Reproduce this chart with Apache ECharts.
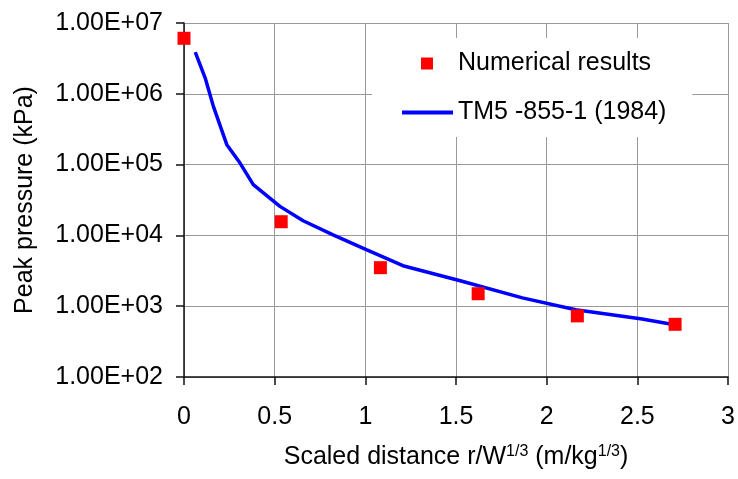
<!DOCTYPE html>
<html>
<head>
<meta charset="utf-8">
<script src="https://cdn.jsdelivr.net/npm/echarts@6/dist/echarts.min.js"></script>
<style>
  html, body { margin: 0; padding: 0; background: #fff; }
  #chart { width: 738px; height: 479px; }
</style>
</head>
<body>
<div id="chart"></div>
<script>
// 数值结果 (scatter)
const numX = [0, 0.536, 1.083, 1.622, 2.169, 2.708]
const numP = [6.08e6, 1.56e4, 3.5e3, 1.5e3, 730, 555]

// TM5-855-1 curve
const tmX = [0.062, 0.117, 0.162, 0.236, 0.309, 0.382, 0.529, 0.657, 0.822, 1.005, 1.207, 1.518, 1.866, 2.16, 2.526, 2.682]
const tmP = [3.89e6, 1.67e6, 6.64e5, 1.91e5, 1.05e5, 5.2e4, 2.57e4, 1.61e4, 1.02e4, 6.28e3, 3.73e3, 2.31e3, 1.31e3, 891, 659, 561]

const yTickLabels = ['1.00E+02', '1.00E+03', '1.00E+04', '1.00E+05', '1.00E+06', '1.00E+07']

const font = "'Liberation Sans', Arial, sans-serif"
const chart = echarts.init(document.getElementById('chart'))

const option = {
  animation: false,
  textStyle: { fontFamily: font, color: '#000' },
  grid: { left: 184, right: 9, top: 23, bottom: 102 },
  legend: [
    {
      data: ['Numerical results'],
      left: 372,
      top: 38,
      padding: [13, 36, 13, 49],
      backgroundColor: '#fff',
      itemWidth: 12,
      itemHeight: 12,
      icon: 'rect',
      textStyle: { fontSize: 25, color: '#000', fontFamily: font, padding: [0, 0, 0, 20] },
    },
    {
      data: ['TM5 -855-1 (1984)'],
      left: 372,
      top: 88,
      padding: [12, 26, 12, 30],
      backgroundColor: '#fff',
      itemWidth: 51,
      itemHeight: 4,
      icon: 'rect',
      textStyle: { fontSize: 25, color: '#000', fontFamily: font },
    },
  ],
  xAxis: {
    type: 'value',
    min: 0,
    max: 3,
    interval: 0.5,
    name: 'Scaled distance r/W{sup|1/3} (m/kg{sup|1/3})',
    nameLocation: 'middle',
    nameGap: 67,
    nameTextStyle: {
      fontSize: 25,
      color: '#000',
      fontFamily: font,
      rich: {
        sup: { fontSize: 16, verticalAlign: 'top', padding: [0, 0, 10, 0], fontFamily: font, color: '#000' },
      },
    },
    axisLine: { lineStyle: { color: '#111', width: 1.5 } },
    axisTick: { show: true, length: 8, lineStyle: { color: '#111', width: 1.5 } },
    axisLabel: { fontSize: 25, color: '#000', margin: 28, fontFamily: font },
    splitLine: { show: true, lineStyle: { color: '#999', width: 1 } },
  },
  yAxis: {
    type: 'log',
    logBase: 10,
    min: 100,
    max: 1e7,
    name: 'Peak pressure (kPa)',
    nameLocation: 'middle',
    nameRotate: 90,
    nameGap: 146,
    nameTextStyle: { fontSize: 25, color: '#000', fontFamily: font },
    axisLine: { show: true, lineStyle: { color: '#111', width: 1.5 } },
    axisTick: { show: true, length: 8, lineStyle: { color: '#111', width: 1.5 } },
    axisLabel: {
      fontSize: 25,
      color: '#000',
      margin: 21,
      fontFamily: font,
      formatter: (v) => yTickLabels[Math.round(Math.log10(v)) - 2],
    },
    splitLine: { show: true, lineStyle: { color: '#999', width: 1 } },
  },
  series: [
    {
      name: 'Numerical results',
      type: 'scatter',
      symbol: 'rect',
      symbolSize: 13,
      itemStyle: { color: '#ff0000', opacity: 1 },
      data: numX.map((x, i) => [x, numP[i]]),
      z: 3,
    },
    {
      name: 'TM5 -855-1 (1984)',
      type: 'line',
      symbol: 'none',
      lineStyle: { color: '#0000ff', width: 3.5 },
      itemStyle: { color: '#0000ff' },
      data: tmX.map((x, i) => [x, tmP[i]]),
      z: 2,
    },
  ],
}
chart.setOption(option)
</script>
</body>
</html>
